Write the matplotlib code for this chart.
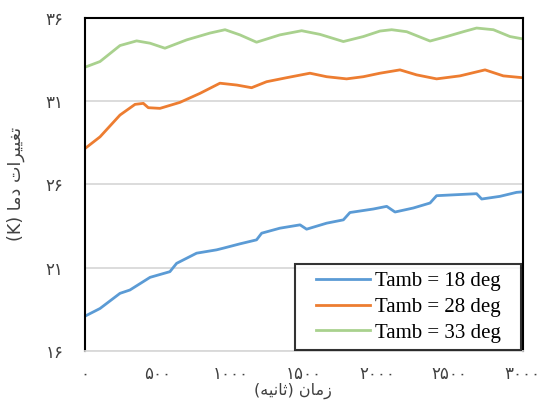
import matplotlib
matplotlib.use('Agg')
import matplotlib.pyplot as plt

# ---- data ----
t_blue = [0, 103, 240, 308, 446, 582, 628, 765, 902, 948, 1062, 1176, 1211, 1336, 1474, 1519,
          1656, 1771, 1816, 1976, 2068, 2125, 2250, 2365, 2410, 2547, 2684, 2719, 2844, 2958, 3000]
v_blue = [18.09, 18.55, 19.46, 19.66, 20.42, 20.76, 21.26, 21.87, 22.07, 22.17, 22.43, 22.67, 23.07,
          23.37, 23.57, 23.31, 23.67, 23.87, 24.31, 24.52, 24.68, 24.34, 24.58, 24.88, 25.32, 25.38,
          25.44, 25.12, 25.28, 25.52, 25.55]

t_orange = [0, 103, 240, 343, 400, 434, 514, 651, 788, 925, 1040, 1142, 1245, 1382, 1542, 1656,
            1793, 1908, 2022, 2159, 2273, 2410, 2570, 2742, 2867, 3000]
v_orange = [28.15, 28.85, 30.16, 30.80, 30.86, 30.60, 30.56, 30.92, 31.46, 32.07, 31.96, 31.80,
            32.16, 32.40, 32.67, 32.46, 32.33, 32.46, 32.67, 32.87, 32.57, 32.33, 32.51, 32.87,
            32.51, 32.40]

t_green = [0, 103, 240, 354, 446, 548, 697, 857, 960, 1062, 1176, 1336, 1485, 1611, 1771, 1908,
           2022, 2102, 2205, 2365, 2479, 2593, 2684, 2799, 2913, 3000]
v_green = [33.03, 33.37, 34.33, 34.61, 34.47, 34.17, 34.67, 35.08, 35.28, 34.97, 34.53, 34.97,
           35.22, 35.00, 34.57, 34.87, 35.20, 35.28, 35.16, 34.60, 34.87, 35.16, 35.38, 35.28,
           34.87, 34.73]

series_labels = ['Tamb = 18 deg', 'Tamb = 28 deg', 'Tamb = 33 deg']
colors = ['#5B9BD5', '#ED7D31', '#A9D18E']

x_ticks = [0, 500, 1000, 1500, 2000, 2500, 3000]
y_ticks = [16, 21, 26, 31, 36]

# Persian text written in visual order with Arabic presentation forms
x_label = '(\uFEEA\uFEF4\uFEE7\uFE8E\uFE9B) \uFEE5\uFE8E\uFEE3\uFEAF'          # زمان (ثانیه)
y_label = '(K) \uFE8E\uFEE3\uFEA9 \uFE95\uFE8D\uFEAE\uFEF4\uFEF4\uFED0\uFE97'   # تغییرات دما (K)

PD = str.maketrans('0123456789', '\u06F0\u06F1\u06F2\u06F3\u06F4\u06F5\u06F6\u06F7\u06F8\u06F9')
def fa(n):
    return str(n).translate(PD)

fig = plt.figure(figsize=(5.43, 4.11), dpi=100)
ax = fig.add_axes([0.1565, 0.146, 0.8061, 0.8109])

for t, v, c, lab in zip([t_blue, t_orange, t_green], [v_blue, v_orange, v_green], colors, series_labels):
    ax.plot(t, v, color=c, lw=2.0, label=lab, solid_joinstyle='round')

ax.set_xlim(0, 3000)
ax.set_ylim(16, 36)
ax.set_xticks(x_ticks)
ax.set_yticks(y_ticks)
ax.set_xticklabels([fa(v) for v in x_ticks], family=['DejaVu Sans'], fontsize=12, color='#404040')
ax.set_yticklabels([fa(v) for v in y_ticks], family=['DejaVu Sans'], fontsize=12, color='#404040')
ax.tick_params(length=0)
ax.tick_params(axis='y', pad=15.5)
ax.tick_params(axis='x', pad=10)
ax.grid(axis='y', color='#D9D9D9', lw=1.3)
ax.set_axisbelow(True)
for s in ['left', 'top', 'right']:
    ax.spines[s].set_color('black')
    ax.spines[s].set_linewidth(1.5)
ax.spines['bottom'].set_color('#D9D9D9')
ax.spines['bottom'].set_linewidth(1.3)

fig.text(293 / 543, 1 - 391 / 411, x_label, ha='center', va='center',
         family=['DejaVu Sans'], fontsize=11.5, color='#404040')
fig.text(16 / 543, 1 - 184 / 411, y_label, ha='center', va='center', rotation=90,
         family=['DejaVu Sans'], fontsize=12.6, color='#404040')

leg = ax.legend(loc='lower left', bbox_to_anchor=(0.48, 0.003, 0.517, 0.255), mode='expand',
                alignment='center', borderaxespad=0.0,
                prop={'family': 'Liberation Serif', 'size': 15}, frameon=True, fancybox=False,
                handlelength=2.6, handletextpad=0.25, labelspacing=0.3, borderpad=0.35)
leg.get_frame().set_edgecolor('black')
leg.get_frame().set_linewidth(1.5)
try:
    leg._legend_handle_box.mode = 'fixed'
except Exception:
    pass

fig.savefig('out.png', dpi=100)
